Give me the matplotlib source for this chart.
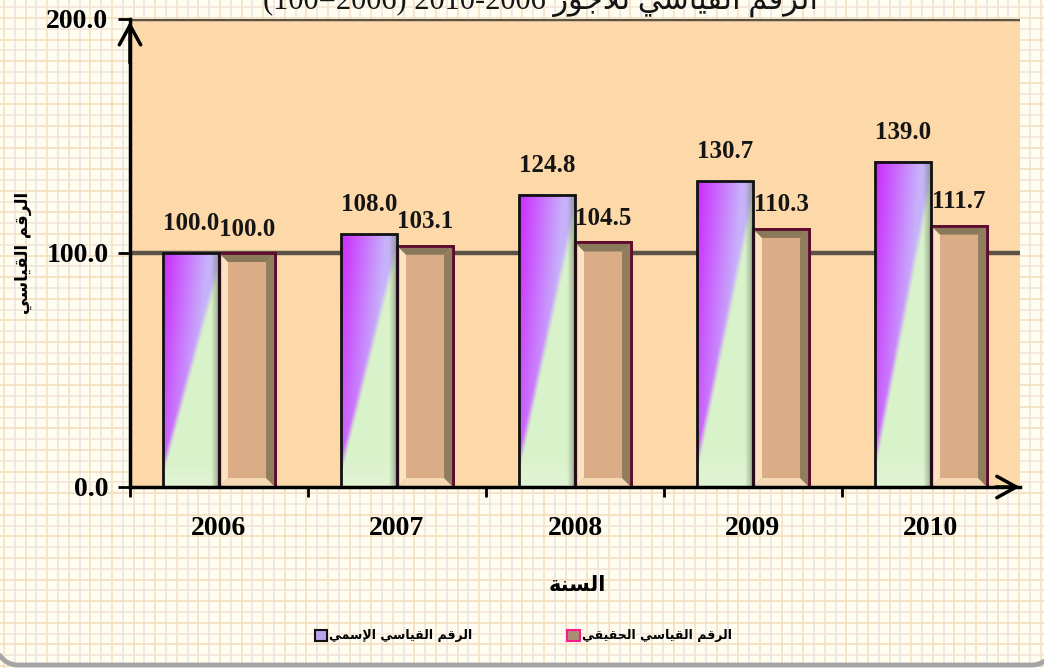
import numpy as np
import matplotlib
matplotlib.use('Agg')
import matplotlib.pyplot as plt
from matplotlib.patches import Rectangle, Polygon
from matplotlib.font_manager import FontProperties

# ---------------- data ----------------
years = ['2006', '2007', '2008', '2009', '2010']
nominal = [100.0, 108.0, 124.8, 130.7, 139.0]
real = [100.0, 103.1, 104.5, 110.3, 111.7]
yticks = [0.0, 100.0, 200.0]
label_nominal = 'الرقم القياسي الإسمي'
label_real = 'الرقم القياسي الحقيقي'
x_title = 'السنة'
y_title = 'الرقم القياسي'
title_ar = 'الرقم القياسي للأجور'
title_num = '(100=2006) 2010-2006'

# ------------- minimal Arabic shaping (presentation forms, visual order) -------------
FORMS = {
    'ا': ('\uFE8D', '\uFE8E', None, None),
    'أ': ('\uFE83', '\uFE84', None, None),
    'إ': ('\uFE87', '\uFE88', None, None),
    'ل': ('\uFEDD', '\uFEDE', '\uFEDF', '\uFEE0'),
    'ر': ('\uFEAD', '\uFEAE', None, None),
    'ق': ('\uFED5', '\uFED6', '\uFED7', '\uFED8'),
    'م': ('\uFEE1', '\uFEE2', '\uFEE3', '\uFEE4'),
    'ي': ('\uFEF1', '\uFEF2', '\uFEF3', '\uFEF4'),
    'س': ('\uFEB1', '\uFEB2', '\uFEB3', '\uFEB4'),
    'ح': ('\uFEA1', '\uFEA2', '\uFEA3', '\uFEA4'),
    'ن': ('\uFEE5', '\uFEE6', '\uFEE7', '\uFEE8'),
    'ة': ('\uFE93', '\uFE94', None, None),
    'ج': ('\uFE9D', '\uFE9E', '\uFE9F', '\uFEA0'),
    'و': ('\uFEED', '\uFEEE', None, None),
}
LAM_ALEF = {'ا': ('\uFEFB', '\uFEFC'), 'أ': ('\uFEF7', '\uFEF8'), 'إ': ('\uFEF9', '\uFEFA')}


def shape(text):
    toks = []
    i = 0
    while i < len(text):
        c = text[i]
        if c == 'ل' and i + 1 < len(text) and text[i + 1] in LAM_ALEF:
            toks.append(('LA', text[i + 1]))
            i += 2
        else:
            toks.append(('C', c))
            i += 1

    def is_ar(t):
        return t[0] == 'LA' or t[1] in FORMS

    def joins_next(t):
        return t[0] == 'C' and t[1] in FORMS and FORMS[t[1]][2] is not None

    out = []
    for k, t in enumerate(toks):
        prev_j = k > 0 and joins_next(toks[k - 1]) and is_ar(t)
        if t[0] == 'LA':
            out.append(LAM_ALEF[t[1]][1 if prev_j else 0])
            continue
        f = FORMS.get(t[1])
        if f is None:
            out.append(t[1])
            continue
        next_j = joins_next(t) and k + 1 < len(toks) and is_ar(toks[k + 1])
        if prev_j and next_j:
            out.append(f[3])
        elif prev_j:
            out.append(f[1])
        elif next_j:
            out.append(f[2])
        else:
            out.append(f[0])
    return ''.join(reversed(out))


plt.rcParams['font.family'] = ['Liberation Serif', 'DejaVu Sans']
plt.rcParams['font.weight'] = 'bold'

W, H = 1044, 668
fig = plt.figure(figsize=(W / 100, H / 100), dpi=100)
fig.patch.set_facecolor('#fffcf0')

# graph-paper background (axes in pixel units)
bg = fig.add_axes([0, 0, 1, 1], zorder=-10)
bg.set_xlim(0, W)
bg.set_ylim(0, H)
bg.axis('off')
for k, xx in enumerate(np.arange(4, W, 10.8)):
    bg.axvline(xx, color='#f1dfc2' if k % 2 == 0 else '#ebe2e8', lw=1.1)
for k, yy in enumerate(np.arange(2, H, 10.8)):
    bg.axhline(yy, color='#f3dcbc' if k % 2 == 0 else '#f1e4d6', lw=1.1)

# rounded outer frame (only its bottom corners are inside the picture)
r = 22.0
xl, xr, yb = -4.0, W + 10.0, 3.0
th_l = np.linspace(np.pi, 1.5 * np.pi, 30)
th_r = np.linspace(1.5 * np.pi, 2 * np.pi, 30)
fx = np.concatenate([[xl], xl + r + r * np.cos(th_l), xr - r + r * np.cos(th_r), [xr]])
fy = np.concatenate([[H + 10], yb + r + r * np.sin(th_l), yb + r + r * np.sin(th_r), [H + 10]])
bg.plot(fx, fy, color='#a5a5a5', lw=3.5, solid_capstyle='butt', clip_on=False)

# main axes
ax = fig.add_axes([130 / W, 181 / H, 890 / W, 468 / H])
ax.set_facecolor('#fdd9a9')
xpos = np.arange(len(years))
w = 0.315
ax.set_xlim(-0.5, len(years) - 0.5)
ax.set_ylim(0, 200)

for v in yticks[1:]:
    ax.axhline(v, color='#5b5345', lw=3.2, zorder=1)


def nominal_gradient(nx=60, ny=220):
    u = np.linspace(0, 1, nx)[None, :] * np.ones((ny, 1))
    v = np.linspace(0, 1, ny)[:, None] * np.ones((1, nx))
    P = np.array([0.80, 0.16, 1.0])
    L = np.array([0.78, 0.70, 0.98])
    G = np.array([0.85, 0.95, 0.79])
    t = np.clip(u * 1.25 + (1 - v) * 0.45, 0, 1)[..., None]
    upper = P * (1 - t) + L * t
    s = np.clip((v - (0.08 + 0.88 * u)) / 0.08 + 0.5, 0, 1)[..., None]
    img = upper * s + G * (1 - s)
    low = np.clip((0.12 - v) / 0.12, 0, 1)[..., None] * 0.35
    img = img * (1 - low) + np.array([0.95, 0.98, 0.92]) * low
    rr = np.clip((u - 0.85) / 0.15, 0, 1)[..., None] * 0.7
    shade = np.array([0.45, 0.52, 0.42])
    return img * (1 - rr) + shade * rr


grad = nominal_gradient()
nb = ax.bar(xpos - w / 2, nominal, w, facecolor='none', edgecolor='#111111',
            lw=2, zorder=4)
for rect in nb:
    x0, h = rect.get_x(), rect.get_height()
    ax.imshow(grad, extent=[x0, x0 + rect.get_width(), 0, h], origin='lower',
              aspect='auto', interpolation='bilinear', zorder=3)

rb = ax.bar(xpos + w / 2, real, w, facecolor='#dbad87', edgecolor='#5e0b2e',
            lw=2, zorder=3)
dx = 9 * (len(years)) / 890.0
dy = 9 * 200 / 468.0
for rect in rb:
    x0, h = rect.get_x(), rect.get_height()
    x1 = x0 + rect.get_width()
    ax.add_patch(Polygon([(x0, 0), (x0, h), (x0 + dx, h - dy), (x0 + dx, dy)],
                         closed=True, fc='#fde2c2', ec='none', zorder=3.2))
    ax.add_patch(Polygon([(x0, 0), (x1, 0), (x1 - dx, dy), (x0 + dx, dy)],
                         closed=True, fc='#f5d8b4', ec='none', zorder=3.2))
    ax.add_patch(Polygon([(x1, 0), (x1, h), (x1 - dx, h - dy), (x1 - dx, dy)],
                         closed=True, fc='#8f7d5e', ec='none', zorder=3.2))
    ax.add_patch(Polygon([(x0, h), (x1, h), (x1 - dx, h - dy), (x0 + dx, h - dy)],
                         closed=True, fc='#8a785a', ec='none', zorder=3.2))
    ax.add_patch(Rectangle((x0, 0), x1 - x0, h, fc='none', ec='#5e0b2e', lw=2, zorder=3.5))
    ax.plot([x0, x0], [0, h], color='#ff1a8c', lw=2.5, zorder=3.6, solid_capstyle='butt')

for rect, v in zip(nb, nominal):
    ax.annotate(f'{v:.1f}', (rect.get_x() + rect.get_width() / 2, v),
                xytext=(0, 13), textcoords='offset points', ha='center',
                va='bottom', fontsize=18, fontweight='bold', color='#151515', zorder=6)
for rect, v in zip(rb, real):
    ax.annotate(f'{v:.1f}', (rect.get_x() + rect.get_width() / 2, v),
                xytext=(0, 9), textcoords='offset points', ha='center',
                va='bottom', fontsize=18, fontweight='bold', color='#151515', zorder=6)

# axes styling
for s in ['top', 'right']:
    ax.spines[s].set_visible(False)
for s in ['left', 'bottom']:
    ax.spines[s].set_linewidth(2.5)
    ax.spines[s].set_color('black')
    ax.spines[s].set_zorder(7)

ax.set_yticks(yticks)
ax.set_yticklabels([f'{v:.1f}' for v in yticks])
ax.tick_params(axis='y', direction='out', length=8.5, width=2, pad=7, labelsize=20)
ax.set_xticks(xpos)
ax.set_xticklabels(years)
ax.tick_params(axis='x', which='major', length=0, pad=21, labelsize=20)
ax.set_xticks(np.arange(-0.5, len(years) - 1, 1), minor=True)
ax.tick_params(axis='x', which='minor', direction='out', length=7, width=2)

ax.annotate('', xy=(1.003, 0), xytext=(0.97, 0), xycoords='axes fraction',
            arrowprops=dict(arrowstyle='->,head_length=1.0,head_width=0.55',
                            mutation_scale=14, lw=2.5, color='black'),
            annotation_clip=False, zorder=8)
ax.annotate('', xy=(0, 1.0), xytext=(0, 0.9), xycoords='axes fraction',
            arrowprops=dict(arrowstyle='->,head_length=1.0,head_width=0.55',
                            mutation_scale=14, lw=2.5, color='black'),
            annotation_clip=False, zorder=8)

# texts
fig.text(263 / W, 1 - 9 / H, title_num + ' ' + shape(title_ar), ha='left',
         va='baseline', fontsize=22, fontweight='normal', color='#151515')
fig.text(577 / W, 1 - 585 / H, shape(x_title), ha='center', va='center',
         fontsize=15, fontweight='bold', family=['DejaVu Sans'])
fig.text(23 / W, 1 - 253 / H, shape(y_title), ha='center', va='center',
         rotation=90, fontsize=12, fontweight='bold', family=['DejaVu Sans'])

handles = [Rectangle((0, 0), 1, 1, fc='#b9a3ec', ec='#111111', lw=1.5),
           Rectangle((0, 0), 1, 1, fc='#a89070', ec='#ff1a8c', lw=1.5)]
fig.legend(handles, [shape(label_nominal), shape(label_real)], loc='center',
           bbox_to_anchor=(523 / W, 1 - 636 / H), ncol=2, frameon=False,
           prop=FontProperties(family=['DejaVu Sans'], weight='bold', size=9),
           handlelength=1.0, handleheight=1.0, handletextpad=0.15,
           columnspacing=7.6)

fig.savefig('out.png', dpi=100)
